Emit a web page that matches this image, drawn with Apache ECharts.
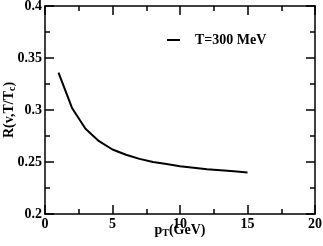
<!DOCTYPE html>
<html><head><meta charset="utf-8">
<script src="https://cdn.jsdelivr.net/npm/echarts@6/dist/echarts.min.js"></script>
<style>html,body{margin:0;padding:0;background:#fff}#c{width:323px;height:246px}</style>
</head><body><div id="c"></div>
<script>
const pT = [1,2,3,4,5,6,7,8,9,10,11,12,13,14,15];
const R300 = [0.336,0.302,0.282,0.270,0.262,0.257,0.253,0.250,0.248,0.246,0.2445,0.243,0.242,0.241,0.240];
const seriesName = 'T=300 MeV';
const xTicks = [0,5,10,15,20];
const yTicks = [0.2,0.25,0.3,0.35,0.4];

const font = 'Liberation Serif';
const chart = echarts.init(document.getElementById('c'), null, {renderer:'canvas'});
const lw = 1.5;
const lbl = {color:'#000', fontFamily:font, fontWeight:'bold', fontSize:14};
const sub = Object.assign({}, lbl, {fontSize:10, padding:[6,0,0,0]});

function baseAx(range, pos, interval, minor){
  return Object.assign({type:'value', interval, position:pos,
    axisLine:{show:true, onZero:false, lineStyle:{color:minor?'rgba(0,0,0,0)':'#000', width:lw}},
    axisTick:{show:true, inside:true, length:minor?5:9, lineStyle:{color:'#000', width:lw}},
    splitLine:{show:false}, axisLabel:{show:false}}, range);
}
const xr = {min:0, max:20}, yr = {min:0.2, max:0.4};

const xMain = baseAx(xr, 'bottom', 5, false);
xMain.axisLabel = Object.assign({show:true, margin:3, formatter:v=>xTicks.includes(v)?String(v):''}, lbl);
xMain.name = '{m|p}{s|T}{m|(GeV)}'; xMain.nameLocation='middle'; xMain.nameGap=8; xMain.nameMoveOverlap=false;
xMain.nameTextStyle = {rich:{m:lbl, s:sub}};

const yMain = baseAx(yr, 'left', 0.05, false);
yMain.axisLabel = Object.assign({show:true, margin:3, formatter:v=>{const t=yTicks.find(q=>Math.abs(q-v)<1e-9);return t===undefined?'':String(t);}}, lbl);
yMain.name = '{m|R(v,T/T}{s|c}{m|)}'; yMain.nameLocation='middle'; yMain.nameGap=28; yMain.nameRotate=90; yMain.nameMoveOverlap=false;
yMain.nameTextStyle = {rich:{m:lbl, s:sub}};

chart.setOption({
  animation:false,
  grid:{left:45, right:8, top:6, bottom:32, containLabel:false, outerBoundsMode:'none'},
  legend:{
    show:true, left:162, top:28, itemWidth:13, itemHeight:2,
    data:[{name:seriesName, icon:'rect'}],
    textStyle:{color:'#000', fontFamily:font, fontWeight:'bold', fontSize:14, padding:[0,0,0,10]}
  },
  xAxis:[xMain, baseAx(xr,'bottom',2.5,true), baseAx(xr,'top',5,false), baseAx(xr,'top',2.5,true)],
  yAxis:[yMain, baseAx(yr,'left',0.025,true), baseAx(yr,'right',0.05,false), baseAx(yr,'right',0.025,true)],
  series:[{
    name:seriesName, type:'line', showSymbol:false, symbol:'none', xAxisIndex:0, yAxisIndex:0,
    data:pT.map((x,i)=>[x,R300[i]]),
    lineStyle:{color:'#000', width:2}, itemStyle:{color:'#000'}
  }]
});
</script></body></html>
